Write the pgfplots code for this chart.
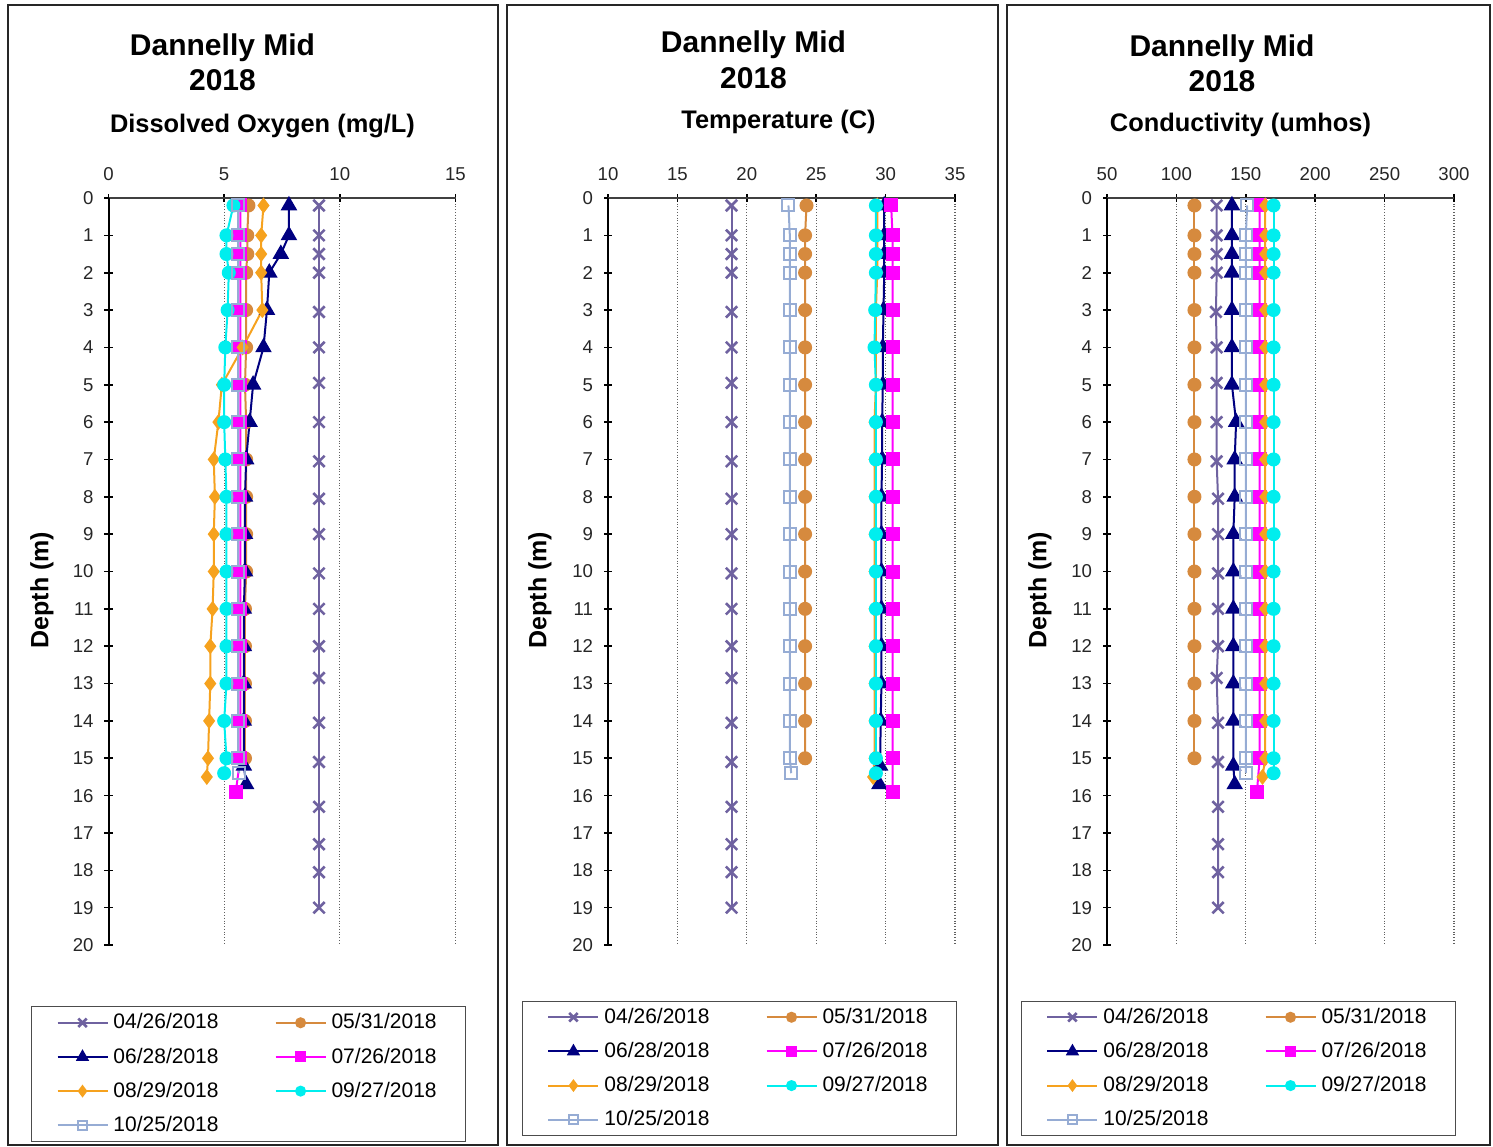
\documentclass[border=0pt]{standalone}
\usepackage{fontspec}
\setmainfont{Liberation Sans}
\usepackage{pgfplots}
\usepackage{pgfplotstable}
\pgfplotsset{compat=1.18}

\definecolor{cA}{HTML}{6F62A0}
\definecolor{cB}{HTML}{D68A3E}
\definecolor{cC}{HTML}{000080}
\definecolor{cD}{HTML}{FF00FF}
\definecolor{cE}{HTML}{F6A21E}
\definecolor{cF}{HTML}{00EEEE}
\definecolor{cG}{HTML}{96ACD4}

% depth, dissolved oxygen, temperature, conductivity
\pgfplotstableread{
d DO T C
0.2 9.1 18.9 129
1 9.1 18.9 129
1.5 9.1 18.9 129
2 9.1 18.9 129
3.05 9.1 18.9 128.5
4 9.1 18.9 129
4.95 9.1 18.9 129
6 9.1 18.9 129
7.05 9.1 18.9 129
8.05 9.1 18.9 130
9 9.1 18.9 130
10.05 9.1 18.9 130
11 9.1 18.9 130
12 9.1 18.9 130
12.85 9.1 18.9 129
14.05 9.1 18.9 130
15.1 9.1 18.9 130
16.3 9.1 18.9 130
17.3 9.1 18.9 130
18.05 9.1 18.9 130
19 9.1 18.9 130
}\tA
\pgfplotstableread{
d DO T C
0.2 6.05 24.3 113
1 6.0 24.2 113
1.5 6.0 24.2 113
2 5.95 24.2 113
3 5.95 24.2 113
4 5.95 24.2 113
5 5.9 24.2 113
6 5.95 24.2 113
7 5.95 24.2 113
8 5.95 24.2 113
9 5.95 24.2 113
10 5.95 24.2 113
11 5.9 24.2 113
12 5.9 24.2 113
13 5.9 24.2 113
14 5.9 24.2 113
15 5.9 24.2 113
}\tB
\pgfplotstableread{
d DO T C
0.2 7.8 29.9 140
1 7.8 29.9 140
1.5 7.45 29.9 140
2 6.95 29.9 140
3 6.85 29.85 140
4 6.7 29.8 140
5 6.25 29.8 140
6 6.1 29.75 143
7 5.95 29.75 142
8 5.9 29.7 142
9 5.9 29.7 141
10 5.9 29.7 141
11 5.85 29.7 141
12 5.85 29.7 141
13 5.85 29.7 141
14 5.85 29.65 141
15.2 5.85 29.6 141
15.7 5.95 29.55 142
}\tC
\pgfplotstableread{
d DO T C
0.2 5.7 30.4 160
1 5.7 30.5 160
1.5 5.7 30.5 160
2 5.7 30.5 160
3 5.7 30.5 160
4 5.7 30.5 160
5 5.7 30.5 160
6 5.7 30.5 160
7 5.7 30.5 160
8 5.7 30.5 160
9 5.7 30.5 160
10 5.7 30.5 160
11 5.7 30.5 160
12 5.7 30.5 160
13 5.7 30.5 160
14 5.7 30.5 160
15 5.7 30.5 160
15.9 5.5 30.5 158
}\tD
\pgfplotstableread{
d DO T C
0.2 6.7 29.4 164
1 6.6 29.4 164
1.5 6.6 29.4 164
2 6.6 29.4 164
3 6.65 29.3 164
4 5.8 29.3 164
5 4.9 29.3 164
6 4.75 29.2 164
7 4.55 29.2 164
8 4.6 29.2 164
9 4.55 29.2 164
10 4.55 29.2 164
11 4.5 29.2 164
12 4.4 29.2 164
13 4.4 29.2 164
14 4.35 29.2 164
15 4.3 29.2 164
15.5 4.25 29.1 162
}\tE
\pgfplotstableread{
d DO T C
0.2 5.4 29.3 170
1 5.1 29.3 170
1.5 5.1 29.3 170
2 5.2 29.3 170
3 5.15 29.25 170
4 5.05 29.2 170
5 5.0 29.3 170
6 5.0 29.3 170
7 5.05 29.3 170
8 5.1 29.3 170
9 5.1 29.3 170
10 5.1 29.3 170
11 5.1 29.3 170
12 5.1 29.3 170
13 5.1 29.3 170
14 5.0 29.3 170
15 5.1 29.3 170
15.4 5.0 29.3 170
}\tF
\pgfplotstableread{
d DO T C
0.2 5.6 23.0 151
1 5.6 23.1 150
1.5 5.6 23.1 150
2 5.6 23.1 150
3 5.6 23.1 150
4 5.6 23.1 150
5 5.6 23.1 150
6 5.6 23.1 150
7 5.6 23.1 150
8 5.6 23.1 150
9 5.6 23.1 150
10 5.6 23.1 150
11 5.6 23.1 150
12 5.6 23.1 150
13 5.6 23.1 150
14 5.6 23.1 150
15 5.6 23.1 150
15.4 5.65 23.2 150
}\tG

\pgfplotsset{
  profile/.style={
    scale only axis, width=173.5bp, height=373.5bp,
    anchor=center,
    y dir=reverse, ymin=0, ymax=20, ytick={0,...,20},
    axis x line*=top, axis y line*=left,
    x axis line style={line width=1.4bp, black!75},
    y axis line style={line width=1bp, black},
    tick align=center, major tick length=4bp,
    tick style={black, line width=0.8bp},
    xmajorgrids=true,
    major grid style={gray!75!black, densely dotted, line width=0.6bp},
    /pgf/number format/assume math mode=true,
    ticklabel style={font=\fontsize{9.3bp}{11bp}\selectfont, color=black!85},
    xticklabel style={yshift=3bp},
    yticklabel style={xshift=-2bp},
    legend columns=2, legend cell align=left,
    legend style={anchor=center, draw=black!70, line width=0.6bp,
      font=\fontsize{10.5bp}{12bp}\selectfont, inner xsep=12.5bp, inner ysep=1.5bp,
      row sep=4bp,
      /tikz/every odd column/.append style={column sep=0.5bp},
      /tikz/every even column/.append style={column sep=26bp}},
    legend image code/.code={
      \draw[##1] (0bp,0bp) -- (25bp,0bp);
      \draw[##1, every mark/.append style={scale=0.75}] plot coordinates {(12.5bp,0bp)};
    },
  },
  sA/.style={color=cA, line width=1bp, mark=x, mark size=4bp, mark options={line width=1.3bp}},
  sB/.style={color=cB, line width=1bp, mark=*, mark size=3bp},
  sC/.style={color=cC, line width=1bp, mark=triangle*, mark size=3.8bp},
  sD/.style={color=cD, line width=1bp, mark=square*, mark size=3bp},
  sE/.style={color=cE, line width=1bp, mark=diamond*, mark size=3.2bp},
  sF/.style={color=cF, line width=1bp, mark=*, mark size=3bp},
  sG/.style={color=cG, line width=1bp, mark=square, mark size=3bp},
}

\newcommand\ttl{\fontsize{15bp}{17bp}\selectfont\bfseries}
\newcommand\sub{\fontsize{12.7bp}{14bp}\selectfont\bfseries}
\newcommand\ylab{\fontsize{12.5bp}{14bp}\selectfont\bfseries}

\begin{document}
\begin{tikzpicture}
\path (0,0) rectangle (746.5bp,-573.5bp);
% panel frames
\draw[line width=1.2bp, black!85] (4bp,-2.5bp) rectangle (249bp,-572.5bp);
\draw[line width=1.2bp, black!85] (253.5bp,-2.5bp) rectangle (499bp,-572.5bp);
\draw[line width=1.2bp, black!85] (503.5bp,-2.5bp) rectangle (745bp,-572.5bp);

% titles
\node[anchor=base] at (111.25bp,-27.5bp) {\ttl Dannelly Mid};
\node[anchor=base] at (111.25bp,-45bp) {\ttl 2018};
\node[anchor=base] at (131.25bp,-66bp) {\sub Dissolved Oxygen (mg/L)};
\node[rotate=90] at (21bp,-295bp) {\ylab Depth (m)};

\node[anchor=base] at (376.75bp,-26bp) {\ttl Dannelly Mid};
\node[anchor=base] at (376.75bp,-44bp) {\ttl 2018};
\node[anchor=base] at (389.25bp,-64bp) {\sub Temperature (C)};
\node[rotate=90] at (270bp,-295bp) {\ylab Depth (m)};

\node[anchor=base] at (611bp,-28bp) {\ttl Dannelly Mid};
\node[anchor=base] at (611bp,-45.5bp) {\ttl 2018};
\node[anchor=base] at (620.25bp,-65.5bp) {\sub Conductivity (umhos)};
\node[rotate=90] at (520bp,-295bp) {\ylab Depth (m)};

% dissolved oxygen
\begin{axis}[profile, at={(141bp,-285.75bp)},
  xmin=0, xmax=15, xtick={0,5,10,15},
  legend style={at={(axis description cs:0.4037,-0.1727)}}]
\addplot[sA] table[x=DO, y=d] {\tA};
\addplot[sB] table[x=DO, y=d] {\tB};
\addplot[sC] table[x=DO, y=d] {\tC};
\addplot[sD] table[x=DO, y=d] {\tD};
\addplot[sE] table[x=DO, y=d] {\tE};
\addplot[sF] table[x=DO, y=d] {\tF};
\addplot[sG] table[x=DO, y=d] {\tG};
\legend{04/26/2018,05/31/2018,06/28/2018,07/26/2018,08/29/2018,09/27/2018,10/25/2018}
\end{axis}

% temperature
\begin{axis}[profile, at={(390.75bp,-285.75bp)},
  xmin=10, xmax=35, xtick={10,15,...,35},
  legend style={at={(axis description cs:0.379,-0.1653)}}]
\addplot[sA] table[x=T, y=d] {\tA};
\addplot[sB] table[x=T, y=d] {\tB};
\addplot[sC] table[x=T, y=d] {\tC};
\addplot[sD] table[x=T, y=d] {\tD};
\addplot[sE] table[x=T, y=d] {\tE};
\addplot[sF] table[x=T, y=d] {\tF};
\addplot[sG] table[x=T, y=d] {\tG};
\legend{04/26/2018,05/31/2018,06/28/2018,07/26/2018,08/29/2018,09/27/2018,10/25/2018}
\end{axis}

% conductivity
\begin{axis}[profile, at={(640.25bp,-285.75bp)},
  xmin=50, xmax=300, xtick={50,100,...,300},
  legend style={at={(axis description cs:0.379,-0.1653)}}]
\addplot[sA] table[x=C, y=d] {\tA};
\addplot[sB] table[x=C, y=d] {\tB};
\addplot[sC] table[x=C, y=d] {\tC};
\addplot[sD] table[x=C, y=d] {\tD};
\addplot[sE] table[x=C, y=d] {\tE};
\addplot[sF] table[x=C, y=d] {\tF};
\addplot[sG] table[x=C, y=d] {\tG};
\legend{04/26/2018,05/31/2018,06/28/2018,07/26/2018,08/29/2018,09/27/2018,10/25/2018}
\end{axis}
\end{tikzpicture}
\end{document}
